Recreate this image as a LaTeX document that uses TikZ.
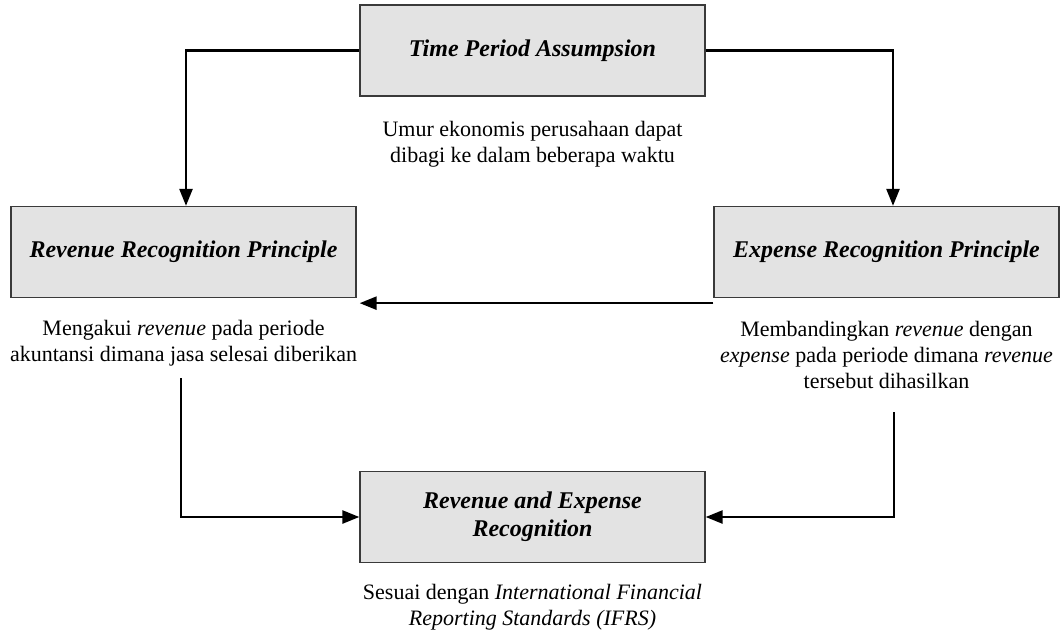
\documentclass[tikz,border=0pt]{standalone}
\usepackage{fontspec}
\setmainfont{Liberation Serif}
\usetikzlibrary{arrows.meta,calc}
\definecolor{boxfill}{HTML}{E3E3E3}
\definecolor{boxline}{HTML}{3A3A3A}
\begin{document}
\begin{tikzpicture}[x=1pt,y=-1pt,
  box/.style={draw=boxline, fill=boxfill, line width=1.3pt,
    minimum width=345pt, minimum height=91pt, inner sep=0pt,
    font=\fontsize{24}{28}\selectfont\bfseries\itshape, align=center},
  desc/.style={font=\fontsize{22}{26}\selectfont, align=center, inner sep=0pt},
  flow/.style={line width=2.5pt, -{Triangle[length=17pt,width=13pt]}}]
\useasboundingbox (0,0) rectangle (1062,638);

% principle boxes
\node[box] (tpa) at (532.5,50.5) {Time Period Assumpsion};
\node[box] (rrp) at (183.5,252) {Revenue Recognition Principle};
\node[box] (erp) at (886.5,252) {Expense Recognition Principle};
\node[box] (rer) at (532.5,517) {Revenue and Expense\\Recognition};

% explanations
\node[desc] (tpad) at (532.5,144) {Umur ekonomis perusahaan dapat\\dibagi ke dalam beberapa waktu};
\node[desc] (rrpd) at (183.5,343) {Mengakui \textit{revenue} pada periode\\akuntansi dimana jasa selesai diberikan};
\node[desc] (erpd) at (886.5,355) {Membandingkan \textit{revenue} dengan\\\textit{expense} pada periode dimana \textit{revenue}\\tersebut dihasilkan};
\node[desc] (rerd) at (532.5,607.5) {Sesuai dengan \textit{International Financial}\\\textit{Reporting Standards (IFRS)}};

% connectors
\coordinate (ls) at (181,378);
\coordinate (rs) at (894,412);
\draw[flow] (tpa.west) -| ($(rrp.north)+(2.5,0)$);
\draw[flow] (tpa.east) -| ($(erp.north)+(6.5,0)$);
\draw[flow] ($(erp.south west)+(0,5)$) -- ($(rrp.south east)+(3,5)$);
\draw[flow] (ls) |- (rer.west);
\draw[flow] (rs) |- (rer.east);
\end{tikzpicture}
\end{document}
